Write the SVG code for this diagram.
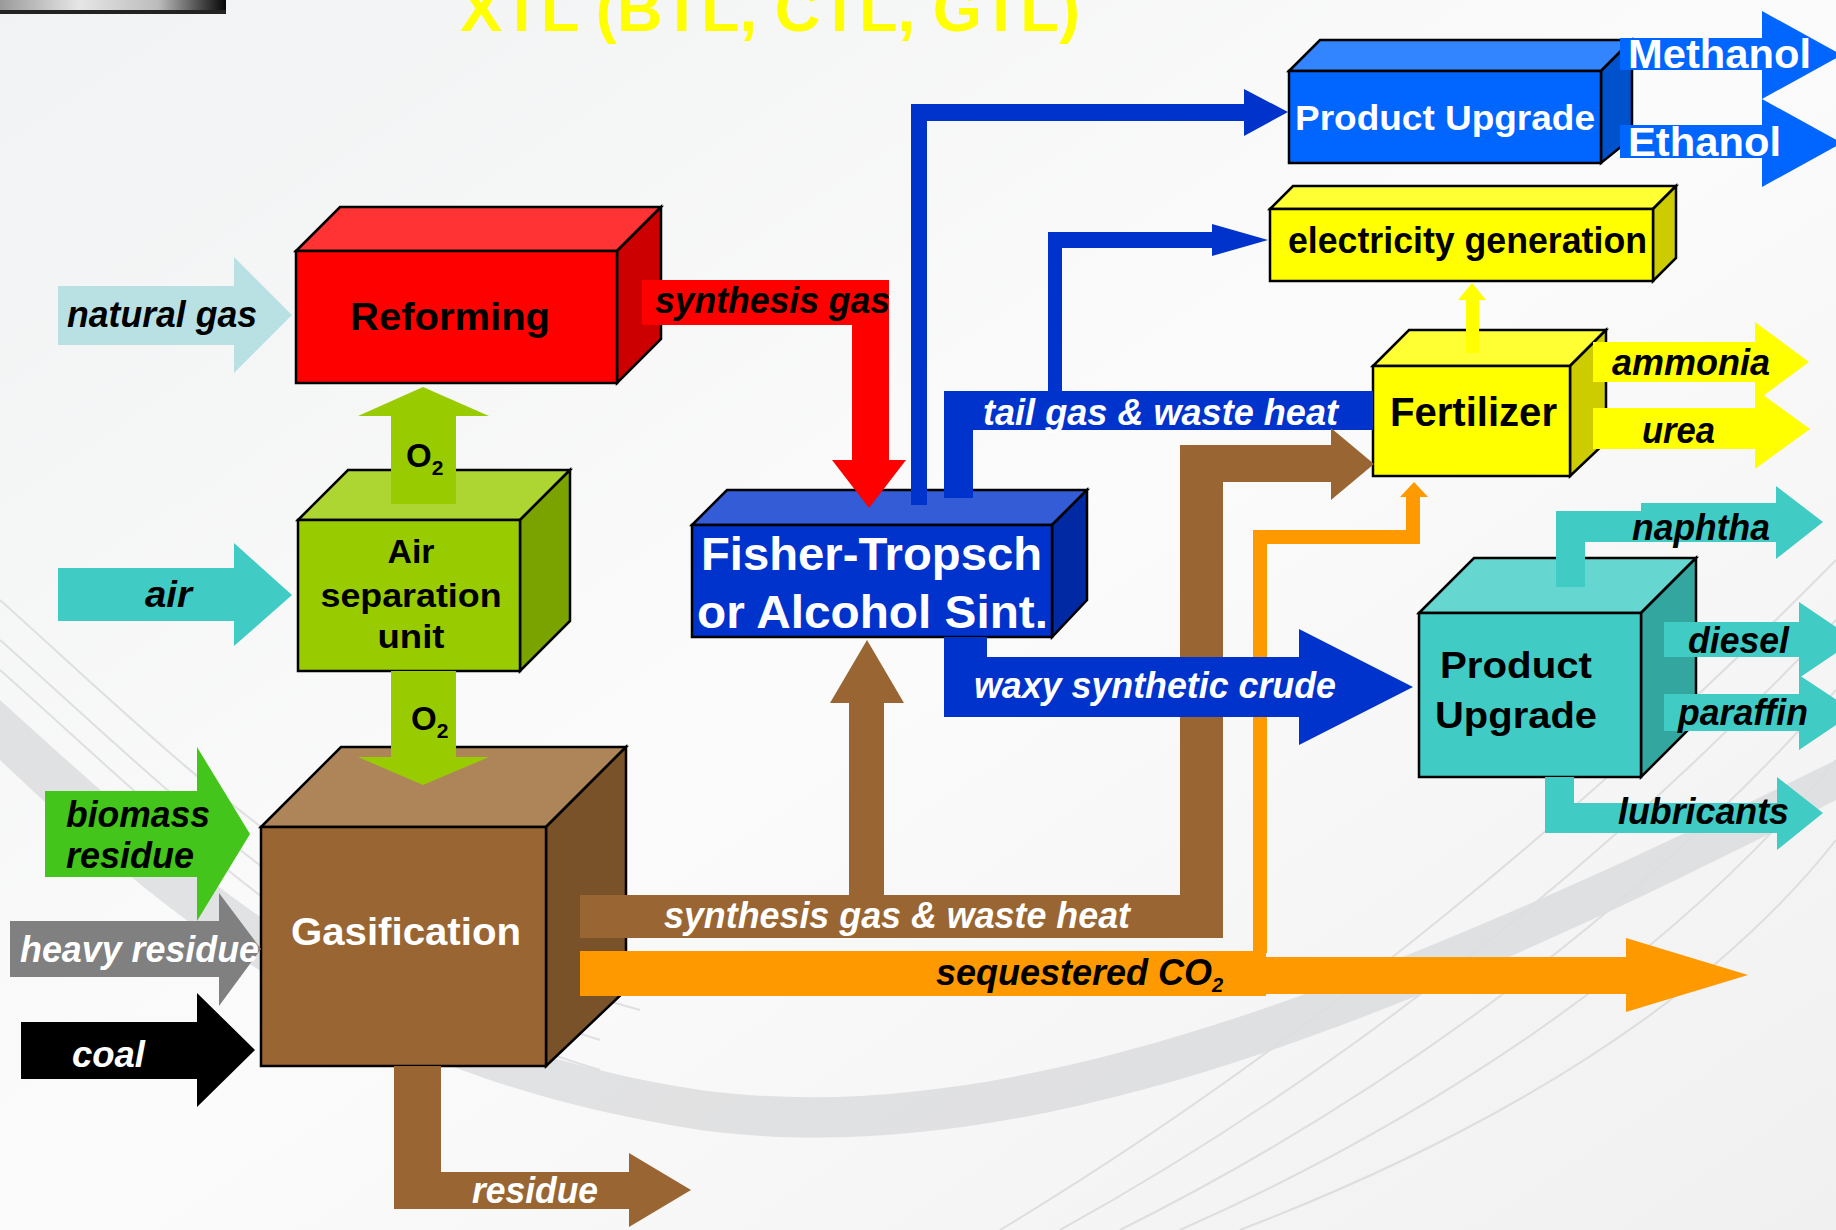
<svg xmlns="http://www.w3.org/2000/svg" width="1836" height="1230" viewBox="0 0 1836 1230">
<defs>
<linearGradient id="bg" x1="0" y1="0" x2="1" y2="1">
<stop offset="0" stop-color="#f1f2f3"/><stop offset="0.5" stop-color="#fbfbfb"/><stop offset="1" stop-color="#f0f0f1"/>
</linearGradient>
<linearGradient id="bar" x1="0" y1="0" x2="1" y2="0">
<stop offset="0" stop-color="#9a9a9a"/><stop offset="0.35" stop-color="#e6e6e6"/><stop offset="0.7" stop-color="#bcbcbc"/><stop offset="1" stop-color="#050505"/>
</linearGradient>
<style>
.lb{font-family:"Liberation Sans",Arial,sans-serif;font-weight:bold;font-style:italic;font-size:36px}
.bx{font-family:"Liberation Sans",Arial,sans-serif;font-weight:bold}
.bk{fill:#000}.wt{fill:#fff}
.box{stroke:#000;stroke-width:2.5;stroke-linejoin:miter}
.sw{fill:none;stroke:#cfd0d2;stroke-width:2}
</style>
</defs>
<rect width="1836" height="1230" fill="url(#bg)"/>
<g id="background" opacity="0.6">
<path d="M0,700 C220,900 380,1040 700,1090 C1000,1130 1350,1000 1836,760 L1836,800 C1350,1050 1000,1170 700,1130 C380,1080 200,950 0,760 Z" fill="#d2d3d5"/>
<path class="sw" d="M0,640 C180,800 330,960 600,1040"/>
<path class="sw" d="M0,670 C180,830 330,990 600,1070"/>
<path class="sw" d="M0,600 C200,780 340,930 640,1010"/>
<path class="sw" d="M1000,1230 C1300,1050 1600,800 1836,560"/>
<path class="sw" d="M1060,1230 C1350,1070 1620,850 1836,620"/>
<path class="sw" d="M1120,1230 C1400,1090 1650,900 1836,690"/>
<path class="sw" d="M1180,1230 C1450,1110 1680,950 1836,760"/>
<path class="sw" d="M1240,1230 C1500,1130 1710,1000 1836,840"/>
</g>
<rect x="0" y="0" width="226" height="10" fill="url(#bar)"/>
<rect x="0" y="10" width="226" height="4" fill="#222"/>
<text class="bx" x="460" y="31" font-size="63" fill="#ffff00" textLength="620" lengthAdjust="spacingAndGlyphs">XTL (BTL, CTL, GTL)</text>

<g id="node-reforming">
<polygon class="box" points="296,251 340,207 661,207 617,251" fill="#ff3333"/>
<polygon class="box" points="617,251 661,207 661,339 617,383" fill="#cc0000"/>
<rect class="box" x="296" y="251" width="321" height="132" fill="#ff0000"/>
<text class="bx bk" x="350" y="330" font-size="38" textLength="200" lengthAdjust="spacingAndGlyphs">Reforming</text>
</g>
<g id="node-asu">
<polygon class="box" points="298,520 348,470 570,470 520,520" fill="#add633"/>
<polygon class="box" points="520,520 570,470 570,621 520,671" fill="#7aa300"/>
<rect class="box" x="298" y="520" width="222" height="151" fill="#99cc00"/>
<text class="bx bk" x="411" y="563" font-size="33" text-anchor="middle" textLength="47" lengthAdjust="spacingAndGlyphs">Air</text>
<text class="bx bk" x="411" y="607" font-size="33" text-anchor="middle" textLength="181" lengthAdjust="spacingAndGlyphs">separation</text>
<text class="bx bk" x="411" y="648" font-size="33" text-anchor="middle" textLength="67" lengthAdjust="spacingAndGlyphs">unit</text>
</g>
<g id="node-gasification">
<polygon class="box" points="261,827 341,747 626,747 546,827" fill="#ad8559"/>
<polygon class="box" points="546,827 626,747 626,990 546,1066" fill="#7a5229"/>
<rect class="box" x="261" y="827" width="285" height="239" fill="#996633"/>
<text class="bx wt" x="291" y="945" font-size="38" textLength="230" lengthAdjust="spacingAndGlyphs">Gasification</text>
</g>
<g id="node-ft">
<polygon class="box" points="692,525 727,490 1087,490 1052,525" fill="#335cd6"/>
<polygon class="box" points="1052,525 1087,490 1087,600 1052,637" fill="#0029a3"/>
<rect class="box" x="692" y="525" width="360" height="112" fill="#0033cc"/>
<text class="bx wt" x="701" y="570" font-size="46" textLength="341" lengthAdjust="spacingAndGlyphs">Fisher-Tropsch</text>
<text class="bx wt" x="697" y="628" font-size="46" textLength="351" lengthAdjust="spacingAndGlyphs">or Alcohol Sint.</text>
</g>
<g id="node-upgrade-top">
<polygon class="box" points="1289,71 1320,40 1632,40 1601,71" fill="#3385ff"/>
<polygon class="box" points="1601,71 1632,40 1632,138 1601,163" fill="#0052cc"/>
<rect class="box" x="1289" y="71" width="312" height="92" fill="#0066ff"/>
<text class="bx wt" x="1295" y="130" font-size="35" textLength="300" lengthAdjust="spacingAndGlyphs">Product Upgrade</text>
</g>
<g id="node-electricity">
<polygon class="box" points="1270,209 1293,186 1676,186 1653,209" fill="#ffff33"/>
<polygon class="box" points="1653,209 1676,186 1676,258 1653,281" fill="#cccc00"/>
<rect class="box" x="1270" y="209" width="383" height="72" fill="#ffff00"/>
<text class="bx bk" x="1288" y="253" font-size="36" textLength="359" lengthAdjust="spacingAndGlyphs">electricity generation</text>
</g>
<g id="node-fertilizer">
<polygon class="box" points="1373,366 1409,330 1606,330 1570,366" fill="#ffff33"/>
<polygon class="box" points="1570,366 1606,330 1606,442 1570,476" fill="#cccc00"/>
<rect class="box" x="1373" y="366" width="197" height="110" fill="#ffff00"/>
<text class="bx bk" x="1390" y="426" font-size="40" textLength="167" lengthAdjust="spacingAndGlyphs">Fertilizer</text>
</g>
<g id="node-upgrade-teal">
<polygon class="box" points="1419,613 1474,558 1696,558 1641,613" fill="#66d6d0"/>
<polygon class="box" points="1641,613 1696,558 1696,722 1641,777" fill="#33a69f"/>
<rect class="box" x="1419" y="613" width="222" height="164" fill="#40cbc4"/>
<text class="bx bk" x="1440" y="678" font-size="37" textLength="152" lengthAdjust="spacingAndGlyphs">Product</text>
<text class="bx bk" x="1435" y="728" font-size="37" textLength="162" lengthAdjust="spacingAndGlyphs">Upgrade</text>
</g>

<g id="connectors">
<polygon points="58,286 234,286 234,257 292,315 234,373 234,345 58,345" fill="#b9e1e4"/>
<polygon points="58,568 234,568 234,543 292,595 234,646 234,621 58,621" fill="#40cbc4"/>
<polygon points="45,791 197,791 197,747 250,834 197,921 197,877 45,877" fill="#43c51b"/>
<polygon points="10,921 219,921 219,893 261,949 219,1006 219,977 10,977" fill="#808080"/>
<polygon points="21,1022 197,1022 197,993 255,1050 197,1107 197,1079 21,1079" fill="#000"/>
<polygon points="391,504 391,416 358,416 423,387 489,416 456,416 456,504" fill="#99cc00"/>
<polygon points="391,671 456,671 456,757 489,757 423,785 358,757 391,757" fill="#99cc00"/>
<path d="M642,280 H889 V460 H906 L869,508 L832,460 H852 V325 H642 Z" fill="#ff0000"/>
<path d="M911,505 V104 H1244 V89 L1288,112 L1244,136 V121 H927 V505 Z" fill="#0033cc"/>
<path d="M944,498 V391 H1048 V232 H1212 V224 L1268,240 L1212,256 V248 H1062 V391 H1373 V430 H973 V498 Z" fill="#0033cc"/>
<path d="M580,895 H849 V703 H830 L867,640 L904,703 H884 V895 H1180 V445 H1331 V428 L1374,464 L1331,500 V482 H1223 V938 H580 Z" fill="#996633"/>
<path d="M1253,953 V530 H1406 V497 H1400 L1414,482 L1428,497 H1420 V544 H1267 V953 Z" fill="#ff9900"/>
<path d="M580,951 H1266 V957 H1626 V938 L1748,975 L1626,1012 V994 H1266 V996 H580 Z" fill="#ff9900"/>
<path d="M944,637 H987 V657 H1299 V629 L1413,687 L1299,745 V717 H944 Z" fill="#0033cc"/>
<path d="M394,1066 H441 V1172 H629 V1153 L691,1190 L629,1227 V1209 H394 Z" fill="#996633"/>
<path d="M1466,353 V300 H1458 L1472,283 L1486,300 H1479 V353 Z" fill="#ffff00"/>
<path d="M1593,342 H1755 V322 L1809,362 L1755,402 V382 H1593 Z" fill="#ffff00"/>
<path d="M1593,408 H1755 V389 L1810,429 L1755,469 V449 H1593 Z" fill="#ffff00"/>
<path d="M1556,587 V511 H1641 V503 H1776 V486 L1823,522 L1776,559 V542 H1585 V587 Z" fill="#40cbc4"/>
<path d="M1664,622 H1799 V602 L1855,640 L1799,678 V657 H1664 Z" fill="#40cbc4"/>
<path d="M1664,694 H1799 V675 L1855,712 L1799,750 V731 H1664 Z" fill="#40cbc4"/>
<path d="M1545,777 H1574 V803 H1777 V777 L1823,813 L1777,850 V833 H1545 Z" fill="#40cbc4"/>
<path d="M1620,38 H1762 V11 L1842,55 L1762,99 V70 H1620 Z" fill="#0066ff"/>
<path d="M1620,125 H1762 V99 L1842,143 L1762,187 V158 H1620 Z" fill="#0066ff"/>
</g>

<g id="labels">
<text class="lb bk" x="67" y="327" textLength="190" lengthAdjust="spacingAndGlyphs">natural gas</text>
<text class="lb bk" x="145" y="607" textLength="47" lengthAdjust="spacingAndGlyphs">air</text>
<text class="lb bk" x="66" y="827" textLength="144" lengthAdjust="spacingAndGlyphs">biomass</text>
<text class="lb bk" x="66" y="868" textLength="128" lengthAdjust="spacingAndGlyphs">residue</text>
<text class="lb wt" x="20" y="962" textLength="239" lengthAdjust="spacingAndGlyphs">heavy residue</text>
<text class="lb wt" x="72" y="1067" textLength="73" lengthAdjust="spacingAndGlyphs">coal</text>
<text class="lb wt" x="472" y="1203" textLength="126" lengthAdjust="spacingAndGlyphs">residue</text>
<text class="bx bk" x="406" y="467" font-size="33">O<tspan font-size="21" dy="8">2</tspan></text>
<text class="bx bk" x="411" y="730" font-size="33">O<tspan font-size="21" dy="8">2</tspan></text>
<text class="lb bk" x="655" y="313" font-size="35" textLength="235" lengthAdjust="spacingAndGlyphs">synthesis gas</text>
<text class="lb wt" x="983" y="425" textLength="355" lengthAdjust="spacingAndGlyphs">tail gas &amp; waste heat</text>
<text class="lb wt" x="974" y="698" textLength="362" lengthAdjust="spacingAndGlyphs">waxy synthetic crude</text>
<text class="lb wt" x="664" y="928" textLength="466" lengthAdjust="spacingAndGlyphs">synthesis gas &amp; waste heat</text>
<text class="lb bk" x="936" y="985" font-size="29.5">sequestered CO<tspan font-size="20" dy="7">2</tspan></text>
<text class="bx wt" x="1628" y="68" font-size="40" textLength="183" lengthAdjust="spacingAndGlyphs">Methanol</text>
<text class="bx wt" x="1628" y="156" font-size="40" textLength="153" lengthAdjust="spacingAndGlyphs">Ethanol</text>
<text class="lb bk" x="1612" y="375" textLength="158" lengthAdjust="spacingAndGlyphs">ammonia</text>
<text class="lb bk" x="1642" y="443" textLength="73" lengthAdjust="spacingAndGlyphs">urea</text>
<text class="lb bk" x="1632" y="540" textLength="138" lengthAdjust="spacingAndGlyphs">naphtha</text>
<text class="lb bk" x="1688" y="653" textLength="101" lengthAdjust="spacingAndGlyphs">diesel</text>
<text class="lb bk" x="1678" y="725" textLength="130" lengthAdjust="spacingAndGlyphs">paraffin</text>
<text class="lb bk" x="1618" y="824" textLength="171" lengthAdjust="spacingAndGlyphs">lubricants</text>
</g>
</svg>
